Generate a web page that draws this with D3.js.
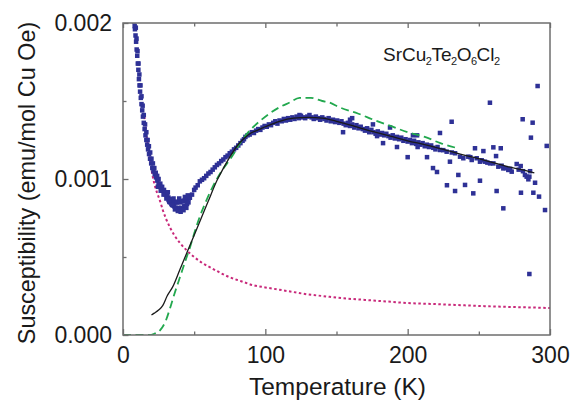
<!DOCTYPE html>
<html><head><meta charset="utf-8">
<script src="https://cdn.jsdelivr.net/npm/d3@7"></script>
<style>body{margin:0;background:#fff;} svg{display:block;font-family:"Liberation Sans",Arial,sans-serif;}</style>
</head><body><svg id="c" width="570" height="402"></svg>
<script>
// Values: temperature in K, susceptibility in units of 1e-3 emu/mol Cu Oe
const xTicks = [0, 100, 200, 300];
const xMinorTicks = [50, 150, 250];
const yTicks = [0, 0.001, 0.002];
const yTickLabels = ["0.000", "0.001", "0.002"];
const yMinorTicks = [0.0005, 0.0015];
const xTitle = "Temperature (K)";
const yTitle = "Susceptibility (emu/mol Cu Oe)";

// measured data, low-T band (rows of the thick band)
const dataLowA = [[7.8,2.01],[8.2,1.98],[8.4,1.96],[8.8,1.92],[9.2,1.88],[9.6,1.83],[10.0,1.79],[10.4,1.74],[10.8,1.70],[11.2,1.64],[11.6,1.60],[12.0,1.56],[12.5,1.52],[13.0,1.48],[13.5,1.44],[14.0,1.40],[14.6,1.36],[15.2,1.32],[15.8,1.28],[16.4,1.25],[17.0,1.22],[17.6,1.19],[18.3,1.16],[19.0,1.13],[19.8,1.10],[20.6,1.07],[21.4,1.05],[22.3,1.03],[23.2,1.01],[24.1,0.99],[25.0,0.97],[26.0,0.955],[27.0,0.94],[28.0,0.925],[29.0,0.91],[30.0,0.90],[31.0,0.89],[32.0,0.88],[33.0,0.87],[34.0,0.865],[35.0,0.86],[36.0,0.855],[37.0,0.85],[38.0,0.85],[39.0,0.855],[40.0,0.85],[41,0.855],[42,0.86],[43,0.86],[44,0.865],[45,0.87],[46,0.875],[47,0.88]];
const dataLowB = [[9.0,1.97],[9.5,1.90],[10.2,1.82],[10.9,1.74],[11.5,1.67],[12.3,1.60],[13.0,1.53],[13.8,1.47],[14.6,1.41],[15.5,1.35],[16.4,1.30],[17.3,1.25],[18.2,1.21],[19.1,1.17],[20.0,1.13],[21.0,1.10],[22.0,1.07],[23.0,1.04],[24.0,1.02],[25.0,1.00],[26.2,0.97],[27.5,0.95],[28.8,0.93],[30,0.91],[31,0.885],[32,0.865],[33,0.85],[34,0.84],[35,0.83],[36,0.825],[37,0.815],[38,0.81],[39,0.815],[40,0.805],[41,0.815],[42,0.81],[43,0.825],[44,0.83],[45,0.84],[46,0.85]];
const dataLowC = [[24.5,0.95],[26.5,0.925],[28.5,0.90],[30.5,0.875],[32.5,0.855],[34.5,0.835],[36.5,0.805],[38.5,0.795],[40.5,0.79],[42.5,0.80],[44.5,0.815],[31.5,0.915],[35.5,0.875],[39.5,0.875],[43.5,0.885],[45.5,0.895]];
const dataRise = [[48.5,0.90],[50,0.93],[51,0.945],[52.5,0.96],[54,0.985],[55.5,0.995],[57,1.005],[58.5,1.02],[60,1.035],[61.5,1.045],[63,1.06],[64.5,1.075],[66,1.09],[67.5,1.10],[69,1.115],[70.5,1.125],[72,1.14],[73.5,1.15],[75,1.165],[76.5,1.175],[78,1.19],[79.5,1.20],[81,1.215],[82.5,1.23],[84,1.245],[85,1.255]];
const dataBand = [[86,1.27],[87.5,1.28],[89,1.285],[90.5,1.30],[92,1.295],[93.5,1.31],[95,1.32],[96.5,1.315],[98,1.33],[99.5,1.34],[101,1.335],[102.5,1.35],[104,1.345],[105.5,1.36],[107,1.37],[108.5,1.355],[110,1.375],[111.5,1.37],[113,1.385],[114.5,1.375],[116,1.39],[117.5,1.38],[119,1.395],[120.5,1.385],[122,1.40],[123.5,1.39],[125,1.405],[126.5,1.395],[128,1.39],[129.5,1.40],[131,1.41],[132.5,1.395],[134,1.385],[135.5,1.40],[137,1.39],[138.5,1.38],[140,1.395],[141.5,1.385],[143,1.375],[144.5,1.39],[146,1.37],[147.5,1.38],[149,1.365],[150.5,1.375],[152,1.36],[153.5,1.37],[155,1.355],[156.5,1.345],[158,1.36],[159.5,1.34],[161,1.35],[162.5,1.33],[164,1.345],[165.5,1.325],[167,1.335],[168.5,1.32],[170,1.31],[171.5,1.325],[173,1.30],[174.5,1.315],[176,1.30],[177.5,1.29],[179,1.305],[180.5,1.285],[182,1.295],[183.5,1.28],[185,1.29],[186.5,1.275],[188,1.265],[189.5,1.28],[191,1.26],[192.5,1.27],[194,1.255],[195.5,1.265],[197,1.245],[198.5,1.255],[200,1.24],[201.5,1.25],[203,1.23],[204.5,1.245],[206,1.225],[207.5,1.235],[209,1.22],[210.5,1.23],[212,1.21],[213.5,1.22],[215,1.205],[216.5,1.215],[218,1.20],[219.5,1.19],[221,1.205],[222.7,1.186],[225,1.185],[227.4,1.175],[231,1.17],[233.3,1.165],[236.8,1.143],[239.1,1.133],[242.6,1.143],[244,1.14],[245,1.122],[248.5,1.133],[250.8,1.111],[252,1.12],[254.3,1.111],[256,1.105],[257.9,1.10],[260.2,1.10],[263.7,1.079],[266,1.085],[267.2,1.068],[269,1.07],[270.7,1.058],[272,1.065],[273.1,1.047],[276.6,1.096],[278,1.06],[279.4,1.083],[281,1.05],[282.4,1.026],[283.6,1.015],[284.8,0.998],[286,1.05]];
const dataScatter = [[124,1.41],[154.6,1.30],[159.5,1.38],[161,1.39],[166.5,1.33],[175.6,1.35],[178.5,1.275],[182.7,1.23],[187.6,1.33],[192.5,1.205],[200,1.14],[203.7,1.28],[206.6,1.28],[207,1.205],[213.6,1.14],[217.8,1.07],[220.6,1.045],[222.7,1.295],[227.6,0.96],[291.3,1.596],[257.8,1.489],[230.9,1.367],[280.8,1.383],[287.8,1.361],[286.6,1.265],[297.7,1.212],[247.3,1.197],[253.2,1.179],[260.2,1.203],[265.4,1.197],[262.1,1.147],[229.7,1.111],[235.6,1.026],[233.3,0.923],[240.3,0.962],[246.1,0.908],[250.8,0.989],[262.5,0.923],[279.6,0.912],[285.5,1.015],[289.5,0.976],[288.3,0.912],[292.3,0.887],[267.2,0.812],[296.5,0.801],[285.5,0.391]];

// fit curves
const fitLine = [[20,0.128],[22,0.14],[25,0.16],[28,0.19],[31,0.25],[35,0.31],[40,0.42],[45,0.53],[50,0.64],[55,0.75],[60,0.86],[66,0.99],[70,1.06],[75,1.14],[80,1.21],[85,1.26],[90,1.295],[95,1.315],[100,1.335],[110,1.37],[120,1.39],[130,1.395],[140,1.39],[150,1.37],[160,1.345],[175,1.305],[190,1.27],[200,1.245],[212,1.22],[225,1.19],[237,1.16],[250,1.13],[260,1.105],[270,1.08],[280,1.06],[289,1.04]];
const greenLine = [[0,0],[10,0],[18,0.0],[22,0.008],[26,0.03],[30,0.09],[33,0.17],[36,0.26],[40,0.37],[44,0.48],[47,0.56],[50,0.65],[54,0.76],[58,0.85],[63,0.95],[70,1.06],[77,1.15],[83,1.24],[89,1.31],[96,1.37],[103,1.42],[110,1.46],[117,1.49],[124,1.52],[132,1.52],[140,1.50],[145,1.49],[152,1.46],[165,1.42],[176,1.38],[188,1.34],[200,1.30],[212,1.27],[223,1.23],[234,1.20]];
const pinkLine = [[15,1.40],[16,1.32],[18,1.18],[20,1.06],[22,0.97],[24,0.91],[26,0.86],[28,0.80],[30,0.75],[33,0.69],[36,0.64],[40,0.59],[45,0.54],[50,0.50],[56,0.46],[62,0.43],[68,0.40],[75,0.37],[83,0.345],[91,0.32],[100,0.305],[110,0.29],[120,0.275],[130,0.26],[140,0.25],[155,0.235],[170,0.225],[185,0.215],[200,0.205],[220,0.198],[240,0.19],[260,0.183],[280,0.178],[300,0.173]];

const svg = d3.select("#c");
const L = 123, R = 550, T = 23, B = 335;
const x = d3.scaleLinear().domain([0, 300]).range([L, R]);
const y = d3.scaleLinear().domain([0, 0.002]).range([B, T]);
const toPt = d => [d[0], d[1] * 1e-3];

svg.append("defs").append("clipPath").attr("id", "clip")
  .append("rect").attr("x", L).attr("y", T).attr("width", R - L).attr("height", B - T);

const plot = svg.append("g").attr("clip-path", "url(#clip)");

const line = d3.line().x(d => x(d[0])).y(d => y(d[1])).curve(d3.curveMonotoneX);

// pink dotted
plot.append("path").datum(pinkLine.map(toPt)).attr("d", line)
  .attr("fill", "none").attr("stroke", "#c8287a").attr("stroke-width", 2)
  .attr("stroke-dasharray", "2.5,2.5");

// data squares
const allData = [].concat(dataLowA, dataLowB, dataLowC, dataRise, dataBand, dataScatter).map(toPt);
const s = 4.5;
plot.selectAll("rect.pt").data(allData).enter().append("rect").attr("class", "pt")
  .attr("x", d => x(d[0]) - s / 2).attr("y", d => y(d[1]) - s / 2)
  .attr("width", s).attr("height", s).attr("fill", "#2e3196");

// green dashed
plot.append("path").datum(greenLine.map(toPt)).attr("d", line)
  .attr("fill", "none").attr("stroke", "#22a84e").attr("stroke-width", 1.8)
  .attr("stroke-dasharray", "8,4.5");

// black fit
plot.append("path").datum(fitLine.map(toPt)).attr("d", line)
  .attr("fill", "none").attr("stroke", "#1a1a1a").attr("stroke-width", 1.3);

// axes
const axisColor = "#6e6e6e";
function styleAxis(g) {
  g.select(".domain").remove();
  g.selectAll(".tick line").attr("stroke", axisColor).attr("stroke-width", 1.3);
  g.selectAll(".tick text").attr("fill", "#1a1a1a").style("font-size", "23px")
    .style("font-family", '"Liberation Sans", Arial, sans-serif');
}
svg.append("g").attr("transform", `translate(0,${B})`)
  .call(d3.axisBottom(x).tickValues(xTicks).tickSize(-6).tickPadding(12).tickFormat(d3.format("d")))
  .call(styleAxis);
svg.append("g").attr("transform", `translate(0,${B})`)
  .call(d3.axisBottom(x).tickValues(xMinorTicks).tickSize(-3.5).tickFormat(""))
  .call(styleAxis);
svg.append("g").attr("transform", `translate(0,${T})`)
  .call(d3.axisTop(x).tickValues(xTicks).tickSize(-5).tickFormat(""))
  .call(styleAxis);
svg.append("g").attr("transform", `translate(0,${T})`)
  .call(d3.axisTop(x).tickValues(xMinorTicks).tickSize(-3.5).tickFormat(""))
  .call(styleAxis);
svg.append("g").attr("transform", `translate(${L},0)`)
  .call(d3.axisLeft(y).tickValues(yTicks).tickSize(-5.5).tickPadding(11).tickFormat((d, i) => yTickLabels[i]))
  .call(styleAxis);
svg.append("g").attr("transform", `translate(${L},0)`)
  .call(d3.axisLeft(y).tickValues(yMinorTicks).tickSize(-3.5).tickFormat(""))
  .call(styleAxis);

// frame
svg.append("rect").attr("x", L).attr("y", T).attr("width", R - L).attr("height", B - T)
  .attr("fill", "none").attr("stroke", axisColor).attr("stroke-width", 1.5);

// titles
svg.append("text").attr("x", (L + R) / 2 + 1).attr("y", 395).attr("text-anchor", "middle")
  .style("font-size", "24.5px").attr("fill", "#1a1a1a").text(xTitle);
svg.append("text").attr("transform", "translate(35,183) rotate(-90)").attr("text-anchor", "middle")
  .style("font-size", "23.4px").attr("fill", "#1a1a1a").text(yTitle);

// formula label
const formula = [["SrCu", false], ["2", true], ["Te", false], ["2", true], ["O", false], ["6", true], ["Cl", false], ["2", true]];
const ft = svg.append("text").attr("x", 383).attr("y", 61).style("font-size", "19px").attr("fill", "#1a1a1a");
formula.forEach(([t, sub], i) => {
  const sp = ft.append("tspan").text(t);
  if (sub) sp.style("font-size", "11px").attr("dy", 4).attr("dx", -0.5);
  else if (i > 0) sp.attr("dy", -4).attr("dx", -0.5);
});
</script></body></html>
